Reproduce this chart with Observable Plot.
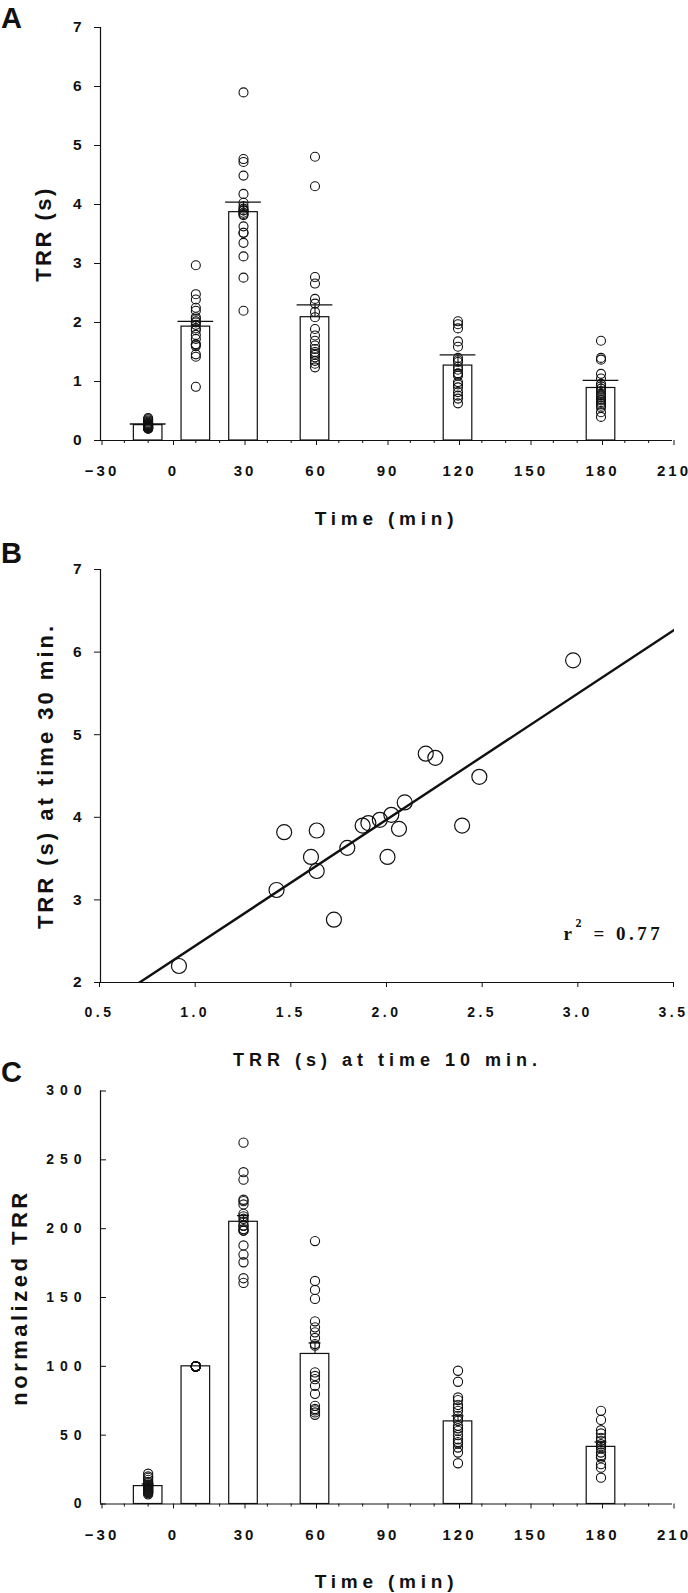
<!DOCTYPE html>
<html><head><meta charset="utf-8">
<script src="https://cdn.jsdelivr.net/npm/d3@7"></script>
<script src="https://cdn.jsdelivr.net/npm/@observablehq/plot@0.6"></script>
<style>
html,body{margin:0;padding:0;background:#fff;overflow:hidden;}
#wrap{position:relative;width:688px;height:1593px;}
#wrap svg{position:absolute;left:0;overflow:visible;}
</style></head><body><div id="wrap"></div>
<script>
// ---------- data ----------
const times = [-10, 10, 30, 60, 120, 180];
const xTicksTime = [-30, 0, 30, 60, 90, 120, 150, 180, 210];
const xMinorTime = [-20, -10, 10, 20, 40, 50, 70, 80, 100, 110, 130, 140, 160, 170, 190, 200];

// Panel A: TRR (s)
const yTicksA = [0, 1, 2, 3, 4, 5, 6, 7];
const meanA = [0.26, 1.93, 3.87, 2.09, 1.27, 0.89];
const seA = [0.02, 0.09, 0.17, 0.21, 0.18, 0.13];
const trrM10 = [0.38, 0.36, 0.34, 0.32, 0.30, 0.29, 0.28, 0.27, 0.26, 0.25, 0.25, 0.24, 0.23, 0.23, 0.22, 0.22, 0.21, 0.21, 0.20, 0.20];
const trr10 = [0.91, 1.42, 1.46, 1.60, 1.63, 1.63, 1.72, 1.79, 1.87, 1.90, 1.96, 2.02, 2.00, 2.06, 2.09, 2.39, 2.20, 2.25, 2.48, 2.97];
const trr30 = [2.20, 3.12, 3.82, 3.52, 3.84, 3.35, 2.76, 3.63, 3.90, 3.93, 3.97, 4.03, 3.52, 3.86, 4.18, 3.90, 4.77, 4.72, 4.49, 5.90];
const trr60 = [4.81, 4.31, 2.77, 2.66, 2.40, 2.32, 2.18, 2.09, 1.89, 1.78, 1.69, 1.61, 1.55, 1.50, 1.47, 1.45, 1.41, 1.35, 1.30, 1.24];
const trr120 = [2.02, 1.97, 1.90, 1.68, 1.59, 1.40, 1.36, 1.33, 1.25, 1.20, 1.14, 1.13, 1.10, 0.99, 0.95, 0.90, 0.82, 0.76, 0.71, 0.63];
const trr180 = [1.69, 1.40, 1.37, 1.13, 1.05, 0.96, 0.92, 0.88, 0.84, 0.79, 0.76, 0.73, 0.70, 0.68, 0.65, 0.62, 0.59, 0.56, 0.48, 0.40];

// Panel B: regression
const xTicksB = [0.5, 1.0, 1.5, 2.0, 2.5, 3.0, 3.5];
const yTicksB = [2, 3, 4, 5, 6, 7];
const fitIntercept = 0.925;
const fitSlope = 1.527;
const r2Parts = ["r", "2", "= 0.77"];

// Panel C: normalized TRR
const yTicksC = [0, 50, 100, 150, 200, 250, 300];
const meanC = [13, 100, 205, 109, 60, 41.5];
const seC = [1.5, 0, 4.5, 8, 4, 3.5];
const normM10 = [22, 20, 19, 17.5, 16, 15, 14, 13.5, 13, 12.5, 12, 11.5, 11, 10.5, 10, 9.5, 9, 8.5, 8, 7];
const norm10 = [100, 100, 100, 100, 100, 100, 100, 100, 100, 100, 100, 100, 100, 100, 100, 100, 100, 100, 100, 100];
const norm30 = [262.5, 241, 235.6, 221, 220, 217.6, 210.8, 209, 207.2, 205, 202.3, 202, 199.7, 198.7, 198.5, 187.8, 181.2, 175.6, 164, 160.6];
const norm60 = [191, 162, 155.5, 149, 132.7, 128.3, 124.7, 120.6, 116.2, 115, 95.6, 93, 90.7, 85.9, 80, 71.3, 69, 68, 66.5, 64.8];
const norm120 = [96.8, 88.8, 77.4, 75.5, 72, 70, 67.7, 64, 62, 60.4, 56.8, 55, 53.1, 50, 47, 45, 43.9, 41, 37.4, 29.6];
const norm180 = [67.7, 61.1, 53.6, 51.2, 48, 45.9, 43.4, 42, 40.5, 37.4, 35, 33.7, 28.9, 26.4, 19.1];

const labels = {
  time: "Time (min)",
  trr: "TRR (s)",
  bx: "TRR (s) at time 10 min.",
  by: "TRR (s) at time 30 min.",
  norm: "normalized TRR"
};

// ---------- rendering ----------
const INK = "#111";
const FONT = "'Liberation Sans', Arial, Helvetica, sans-serif";
const SERIF = "'Liberation Serif', 'Times New Roman', serif";
const wrap = document.getElementById("wrap");

function styleOf() {
  return {fontFamily: FONT, fontWeight: "bold", fontSize: "14px", color: INK, background: "transparent", overflow: "visible"};
}

function finish(svg, top, letter, letterY, tweaks) {
  svg.style.top = top + "px";
  const s = d3.select(svg);
  for (const [sel, ls] of tweaks) s.selectAll(sel).attr("letter-spacing", ls);
  s.append("text").attr("x", 1).attr("y", letterY).attr("text-anchor", "start")
    .attr("font-family", FONT).attr("font-weight", "bold").attr("font-size", 29)
    .attr("fill", INK).text(letter);
  wrap.appendChild(svg);
}

function barPanel(o) {
  const bars = times.map((t, i) => ({t, mean: o.means[i], se: o.ses[i]}));
  const dots = times.flatMap((t, i) => o.dots[i].map(v => ({t, v})));
  return Plot.plot({
    width: 688, height: o.height,
    marginLeft: 100, marginRight: 16, marginTop: o.mt, marginBottom: o.mb,
    x: {domain: [-30, 210]},
    y: {domain: o.yDomain},
    style: styleOf(),
    marks: [
      Plot.rectY(bars, {x1: d => d.t - 6, x2: d => d.t + 6, y: "mean", fill: "white", stroke: INK, strokeWidth: 1.2}),
      Plot.ruleX(bars.filter(d => d.se > 0), {x: "t", y1: "mean", y2: d => d.mean + d.se, stroke: INK, strokeWidth: 1.1}),
      Plot.ruleY(bars.filter(d => d.se > 0), {y: d => d.mean + d.se, x1: d => d.t - o.cap, x2: d => d.t + o.cap, stroke: INK, strokeWidth: 1.3}),
      Plot.dot(dots, {x: "t", y: "v", r: o.r, stroke: INK, strokeWidth: 1.1, fill: "none"}),
      Plot.ruleX([-30], {stroke: INK, strokeWidth: 1.2}),
      Plot.ruleY([o.yDomain[0]], {stroke: INK, strokeWidth: 1.2}),
      Plot.axisX({ticks: xMinorTime, tickSize: 3, tickFormat: () => "", label: null, stroke: INK}),
      Plot.axisX({ticks: xTicksTime, tickSize: 5, tickPadding: 20, tickFormat: d3.format("d"), label: null, fontSize: 15, dx: 1.5, stroke: INK, fill: INK}),
      Plot.axisY({ticks: o.yTicks, tickSize: 6, tickPadding: 13, tickFormat: d3.format("d"), label: null, fontSize: o.yFont, dx: o.yDx, stroke: INK, fill: INK}),
      Plot.text([labels.time], {frameAnchor: "bottom", dy: o.titleDy, textAnchor: "middle", lineAnchor: "middle", fontSize: 19, fontWeight: "bold", fill: INK, ariaDescription: "xtitle"}),
      Plot.text([o.yLabel], {frameAnchor: "left", dx: o.yLabelDx, rotate: -90, textAnchor: "middle", lineAnchor: "middle", fontSize: 22, fontWeight: "bold", fill: INK, ariaDescription: "ytitle"})
    ]
  });
}

// Panel A
const svgA = barPanel({
  height: 530, mt: 27, mb: 90, yDomain: [0, 7], yTicks: yTicksA, yFont: 15.5,
  means: meanA, ses: seA, dots: [trrM10, trr10, trr30, trr60, trr120, trr180],
  cap: 7.5, r: 4.5, yDx: 0, titleDy: 78, yLabel: labels.trr, yLabelDx: -57
});
finish(svgA, 0, "A", 28, [
  ["g[aria-label='x-axis tick label'] text", 3],
  ["g[aria-description='xtitle'] text", 4.8],
  ["g[aria-description='ytitle'] text", 2.5]
]);

// Panel B
const pts = trr10.map((x, i) => ({x, y: trr30[i]}));
const xDomainB = [0.5, 3.5];
const svgB = Plot.plot({
  width: 688, height: 540,
  marginLeft: 100, marginRight: 14, marginTop: 39, marginBottom: 88,
  x: {domain: xDomainB},
  y: {domain: [2, 7]},
  style: styleOf(),
  marks: [
    Plot.line(xDomainB, {x: d => d, y: d => fitIntercept + fitSlope * d, stroke: INK, strokeWidth: 2.4, clip: true}),
    Plot.dot(pts, {x: "x", y: "y", r: 7.5, stroke: INK, strokeWidth: 1.2, fill: "none"}),
    Plot.ruleX([xDomainB[0]], {stroke: INK, strokeWidth: 1.2}),
    Plot.ruleY([2], {stroke: INK, strokeWidth: 1.2}),
    Plot.axisX({ticks: xTicksB, tickSize: 5, tickPadding: 20, tickFormat: d3.format(".1f"), label: null, fontSize: 14, dx: -1, stroke: INK, fill: INK}),
    Plot.axisY({ticks: yTicksB, tickSize: 6, tickPadding: 13, tickFormat: d3.format("d"), label: null, fontSize: 15.5, stroke: INK, fill: INK}),
    Plot.text([r2Parts[0]], {frameAnchor: "bottom-right", dx: -111, dy: -43, textAnchor: "start", lineAnchor: "bottom", fontFamily: SERIF, fontSize: 19, fontWeight: "bold", fill: INK}),
    Plot.text([r2Parts[1]], {frameAnchor: "bottom-right", dx: -99, dy: -56, textAnchor: "start", lineAnchor: "bottom", fontFamily: SERIF, fontSize: 12, fontWeight: "bold", fill: INK}),
    Plot.text([r2Parts[2]], {frameAnchor: "bottom-right", dx: -81, dy: -43, textAnchor: "start", lineAnchor: "bottom", fontFamily: SERIF, fontSize: 19, fontWeight: "bold", fill: INK, ariaDescription: "r2"}),
    Plot.text([labels.bx], {frameAnchor: "bottom", dy: 78, textAnchor: "middle", lineAnchor: "middle", fontSize: 18, fontWeight: "bold", fill: INK, ariaDescription: "xtitle"}),
    Plot.text([labels.by], {frameAnchor: "left", dx: -55, rotate: -90, textAnchor: "middle", lineAnchor: "middle", fontSize: 22, fontWeight: "bold", fill: INK, ariaDescription: "ytitle"})
  ]
});
finish(svgB, 530, "B", 33, [
  ["g[aria-label='x-axis tick label'] text", 3.5],
  ["g[aria-description='xtitle'] text", 5],
  ["g[aria-description='ytitle'] text", 3],
  ["g[aria-description='r2'] text", 3.5]
]);

// Panel C
const svgC = barPanel({
  height: 543, mt: 40.5, mb: 89.5, yDomain: [0, 300], yTicks: yTicksC, yFont: 14,
  means: meanC, ses: seC, dots: [normM10, norm10, norm30, norm60, norm120, norm180],
  cap: 2.5, r: 4.6, yDx: 6, titleDy: 78, yLabel: labels.norm, yLabelDx: -81
});
finish(svgC, 1050, "C", 32, [
  ["g[aria-label='x-axis tick label'] text", 3],
  ["g[aria-label='y-axis tick label'] text", 6],
  ["g[aria-description='xtitle'] text", 4.8],
  ["g[aria-description='ytitle'] text", 3.5]
]);
</script>
</body></html>
